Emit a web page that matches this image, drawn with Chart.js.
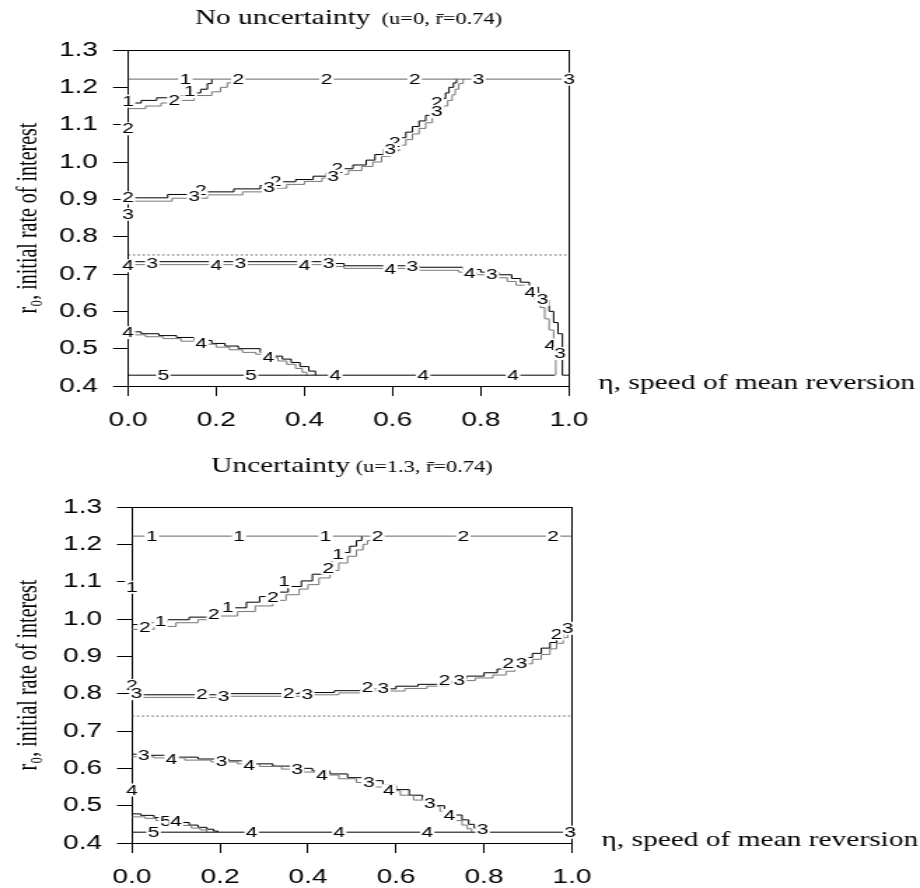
<!DOCTYPE html>
<html>
<head>
<meta charset="utf-8">
<script src="https://cdn.jsdelivr.net/npm/chart.js@4.4.1/dist/chart.umd.min.js"></script>
<style>
  html, body { margin: 0; padding: 0; background: #fff; overflow: hidden; }
  /* the reference is stretched sideways, so the canvases are drawn narrow and widened */
  .panel { width: 657px; height: 444px; transform: scaleX(1.4003); transform-origin: 0 0; }
</style>
</head>
<body>
<div class="panel"><canvas id="topChart" width="657" height="444"></canvas></div>
<div class="panel"><canvas id="bottomChart" width="657" height="444"></canvas></div>
<script>
// axis ticks
const xTicks = [0, 0.2, 0.4, 0.6, 0.8, 1.0];
const yTicks = [0.4, 0.5, 0.6, 0.7, 0.8, 0.9, 1.0, 1.1, 1.2, 1.3];

// ---- No uncertainty (u=0) : contour lines as [eta, r0] step points ----
const topEdgeHigh = [[0, 1.222], [1, 1.222]];
const topEdgeLow = [[0, 0.429], [0.968, 0.429]];
const topMean = [[0, 0.751], [1, 0.751]];
const topStairUpper = [[0, 1.158], [0.03, 1.165], [0.065, 1.172], [0.10, 1.178], [0.14, 1.185], [0.165, 1.195], [0.18, 1.21], [0.19, 1.222]];
const topStairLower = [[0, 1.143], [0.04, 1.15], [0.075, 1.158], [0.11, 1.165], [0.15, 1.178], [0.19, 1.188], [0.21, 1.20], [0.225, 1.212], [0.235, 1.222]];
const topCurveUpper = [[0, 0.904], [0.09, 0.913], [0.17, 0.92], [0.24, 0.928], [0.30, 0.937], [0.34, 0.947], [0.38, 0.953], [0.42, 0.962], [0.45, 0.972], [0.48, 0.982], [0.51, 0.992], [0.54, 1.005], [0.56, 1.02], [0.58, 1.035], [0.60, 1.05], [0.615, 1.065], [0.63, 1.08], [0.645, 1.095], [0.66, 1.11], [0.675, 1.125], [0.69, 1.14], [0.70, 1.155], [0.71, 1.17], [0.72, 1.185], [0.728, 1.20], [0.738, 1.212], [0.745, 1.222]];
const topCurveLower = [[0, 0.895], [0.10, 0.903], [0.18, 0.912], [0.26, 0.92], [0.32, 0.93], [0.36, 0.94], [0.40, 0.948], [0.44, 0.957], [0.47, 0.967], [0.50, 0.977], [0.53, 0.988], [0.555, 1.0], [0.575, 1.015], [0.595, 1.03], [0.615, 1.045], [0.63, 1.06], [0.645, 1.075], [0.66, 1.09], [0.675, 1.105], [0.69, 1.12], [0.705, 1.135], [0.715, 1.15], [0.725, 1.165], [0.735, 1.18], [0.742, 1.195], [0.75, 1.21], [0.76, 1.222]];
const topDropUpper = [[0, 0.733], [0.47, 0.728], [0.49, 0.722], [0.66, 0.718], [0.76, 0.712], [0.80, 0.705], [0.84, 0.698], [0.87, 0.688], [0.89, 0.678], [0.91, 0.665], [0.93, 0.648], [0.945, 0.63], [0.955, 0.60], [0.965, 0.57], [0.975, 0.54], [0.985, 0.50], [0.985, 0.429], [1, 0.429]];
const topDropLower = [[0, 0.725], [0.47, 0.72], [0.49, 0.715], [0.66, 0.71], [0.75, 0.705], [0.79, 0.698], [0.83, 0.69], [0.86, 0.68], [0.88, 0.67], [0.90, 0.655], [0.92, 0.635], [0.935, 0.61], [0.945, 0.58], [0.955, 0.55], [0.965, 0.52], [0.97, 0.46], [0.97, 0.429]];
const topCornerUpper = [[0, 0.545], [0.03, 0.54], [0.07, 0.535], [0.11, 0.53], [0.15, 0.522], [0.19, 0.514], [0.22, 0.507], [0.25, 0.50], [0.30, 0.49], [0.33, 0.48], [0.35, 0.472], [0.37, 0.463], [0.39, 0.452], [0.41, 0.44], [0.425, 0.429]];
const topCornerLower = [[0, 0.537], [0.04, 0.532], [0.08, 0.527], [0.12, 0.52], [0.16, 0.512], [0.20, 0.504], [0.23, 0.497], [0.26, 0.49], [0.29, 0.485], [0.32, 0.476], [0.34, 0.467], [0.36, 0.458], [0.38, 0.447], [0.395, 0.437], [0.405, 0.429]];
const topLabels = [
  ['1', 0.13, 1.222], ['2', 0.25, 1.222], ['2', 0.45, 1.222], ['2', 0.65, 1.222], ['3', 0.795, 1.222], ['3', 1.0, 1.222],
  ['1', 0, 1.163], ['2', 0, 1.089], ['2', 0.105, 1.165], ['1', 0.14, 1.188],
  ['2', 0, 0.904], ['3', 0, 0.86],
  ['2', 0.165, 0.925], ['3', 0.15, 0.909], ['2', 0.335, 0.948], ['3', 0.32, 0.932], ['2', 0.475, 0.983], ['3', 0.465, 0.962],
  ['2', 0.605, 1.052], ['3', 0.595, 1.033], ['2', 0.70, 1.16], ['3', 0.70, 1.135],
  ['4', 0, 0.722], ['3', 0.055, 0.729], ['4', 0.20, 0.722], ['3', 0.255, 0.729], ['4', 0.40, 0.722], ['3', 0.455, 0.729],
  ['4', 0.595, 0.712], ['3', 0.645, 0.72], ['4', 0.775, 0.702], ['3', 0.825, 0.70], ['4', 0.912, 0.652], ['3', 0.94, 0.632],
  ['4', 0.957, 0.51], ['3', 0.98, 0.487],
  ['4', 0, 0.543], ['4', 0.166, 0.515], ['4', 0.318, 0.478],
  ['5', 0.08, 0.429], ['5', 0.279, 0.429], ['4', 0.47, 0.429], ['4', 0.669, 0.429], ['4', 0.873, 0.429]
];

// ---- Uncertainty (u=1.3) ----
const botEdgeHigh = [[0, 1.222], [1, 1.222]];
const botEdgeLow = [[0, 0.429], [1, 0.429]];
const botMean = [[0, 0.74], [1, 0.74]];
const botStairUpper = [[0, 0.985], [0.04, 0.99], [0.08, 0.998], [0.13, 1.005], [0.18, 1.017], [0.22, 1.03], [0.26, 1.045], [0.29, 1.06], [0.32, 1.072], [0.355, 1.087], [0.385, 1.102], [0.41, 1.12], [0.435, 1.14], [0.455, 1.16], [0.475, 1.178], [0.495, 1.195], [0.51, 1.21], [0.522, 1.222]];
const botStairLower = [[0, 0.972], [0.05, 0.98], [0.10, 0.99], [0.15, 0.998], [0.20, 1.008], [0.24, 1.02], [0.28, 1.035], [0.32, 1.05], [0.35, 1.065], [0.38, 1.08], [0.40, 1.092], [0.425, 1.11], [0.45, 1.13], [0.47, 1.15], [0.49, 1.168], [0.51, 1.185], [0.525, 1.20], [0.535, 1.21], [0.548, 1.222]];
const botRiseUpper = [[0, 0.797], [0.2, 0.80], [0.38, 0.803], [0.46, 0.808], [0.52, 0.813], [0.6, 0.82], [0.65, 0.825], [0.7, 0.832], [0.73, 0.84], [0.76, 0.847], [0.80, 0.856], [0.83, 0.866], [0.85, 0.876], [0.87, 0.886], [0.89, 0.897], [0.91, 0.908], [0.93, 0.922], [0.95, 0.937], [0.965, 0.952], [0.98, 0.968], [0.99, 0.983], [1.0, 1.0]];
const botRiseLower = [[0, 0.79], [0.22, 0.793], [0.40, 0.797], [0.47, 0.802], [0.53, 0.807], [0.62, 0.814], [0.67, 0.82], [0.72, 0.827], [0.75, 0.835], [0.78, 0.842], [0.82, 0.85], [0.85, 0.86], [0.87, 0.87], [0.89, 0.88], [0.91, 0.892], [0.93, 0.905], [0.95, 0.92], [0.965, 0.935], [0.98, 0.95], [0.99, 0.965], [1.0, 0.98]];
const botDropUpper = [[0, 0.638], [0.04, 0.635], [0.1, 0.63], [0.15, 0.625], [0.22, 0.62], [0.27, 0.612], [0.32, 0.606], [0.37, 0.60], [0.41, 0.593], [0.45, 0.585], [0.49, 0.575], [0.53, 0.567], [0.57, 0.555], [0.60, 0.543], [0.63, 0.528], [0.66, 0.515], [0.69, 0.50], [0.71, 0.488], [0.73, 0.475], [0.75, 0.462], [0.765, 0.45], [0.778, 0.44], [0.79, 0.429]];
const botDropLower = [[0, 0.631], [0.05, 0.628], [0.12, 0.622], [0.18, 0.617], [0.24, 0.612], [0.29, 0.605], [0.34, 0.598], [0.39, 0.59], [0.43, 0.582], [0.47, 0.572], [0.51, 0.562], [0.55, 0.55], [0.58, 0.54], [0.61, 0.528], [0.64, 0.515], [0.67, 0.498], [0.70, 0.485], [0.72, 0.472], [0.735, 0.46], [0.75, 0.448], [0.762, 0.438], [0.772, 0.429]];
const botCornerUpper = [[0, 0.478], [0.02, 0.474], [0.05, 0.468], [0.07, 0.462], [0.11, 0.455], [0.13, 0.448], [0.15, 0.442], [0.17, 0.437], [0.185, 0.432], [0.195, 0.429]];
const botCornerLower = [[0, 0.47], [0.03, 0.466], [0.055, 0.46], [0.09, 0.453], [0.115, 0.447], [0.135, 0.44], [0.155, 0.435], [0.17, 0.429]];
const botLabels = [
  ['1', 0.045, 1.222], ['1', 0.243, 1.222], ['1', 0.44, 1.222], ['2', 0.558, 1.222], ['2', 0.753, 1.222], ['2', 0.957, 1.222],
  ['1', 0, 1.085],
  ['2', 0.029, 0.978], ['1', 0.065, 0.995], ['2', 0.186, 1.012], ['1', 0.218, 1.03], ['2', 0.32, 1.058], ['1', 0.346, 1.10], ['2', 0.446, 1.136], ['1', 0.468, 1.172],
  ['2', 0, 0.822], ['3', 0.01, 0.80], ['2', 0.159, 0.799], ['3', 0.208, 0.794], ['2', 0.356, 0.802], ['3', 0.398, 0.798],
  ['2', 0.535, 0.816], ['3', 0.571, 0.813], ['2', 0.71, 0.836], ['3', 0.744, 0.836], ['2', 0.855, 0.882], ['3', 0.885, 0.882],
  ['2', 0.965, 0.96], ['3', 0.99, 0.975],
  ['3', 0.027, 0.636], ['4', 0.09, 0.625], ['3', 0.203, 0.619], ['4', 0.266, 0.607], ['3', 0.375, 0.596], ['4', 0.432, 0.58],
  ['3', 0.538, 0.562], ['4', 0.584, 0.54], ['3', 0.677, 0.506], ['4', 0.721, 0.474], ['3', 0.797, 0.436],
  ['4', 0, 0.542], ['5', 0.077, 0.457], ['4', 0.10, 0.459],
  ['5', 0.049, 0.429], ['4', 0.272, 0.429], ['4', 0.471, 0.429], ['4', 0.671, 0.429], ['3', 0.996, 0.429]
];

const K = 920 / 657;   // sideways stretch
const W = 657, H = 444;
const DARK = '#000', GREY = '#777';
const sans = '"Liberation Sans", Arial, sans-serif';
const serif = '"Liberation Serif", "Times New Roman", serif';

function line(pts, color, dotted) {
  return {
    data: pts.map(p => ({x: p[0], y: p[1]})),
    borderColor: color,
    borderWidth: 1,
    borderDash: dotted ? [1.5, 2] : [],
    stepped: !dotted,
    pointRadius: 0,
    fill: false
  };
}

function textPlugin(labels, main, sub, titleY) {
  return {
    id: 'panelText',
    afterDatasetsDraw(chart) {
      const {ctx, scales} = chart;
      ctx.save();
      ctx.font = '15px ' + sans;
      ctx.textAlign = 'center';
      ctx.textBaseline = 'middle';
      labels.forEach(([t, vx, vy]) => {
        const px = scales.x.getPixelForValue(vx);
        const py = scales.y.getPixelForValue(vy);
        const w = ctx.measureText(t).width;
        ctx.fillStyle = '#fff';
        ctx.fillRect(px - w / 2 - 1, py - 6.5, w + 2, 13);
        ctx.fillStyle = '#000';
        ctx.fillText(t, px, py + 0.5);
      });
      ctx.restore();
    },
    afterDraw(chart) {
      const {ctx, chartArea} = chart;
      ctx.save();
      ctx.fillStyle = '#000';
      ctx.textAlign = 'left';
      ctx.textBaseline = 'alphabetic';
      ctx.font = '21px ' + serif;
      const w1 = ctx.measureText(main).width;
      ctx.font = '16px ' + serif;
      const w2 = ctx.measureText(sub).width;
      const sx = (chartArea.left + chartArea.right) / 2 - (w1 + w2) / 2;
      ctx.font = '21px ' + serif;
      ctx.fillText(main, sx, titleY);
      ctx.font = '16px ' + serif;
      ctx.fillText(sub, sx + w1, titleY);
      // x axis name sits to the right of the plot
      ctx.font = '21px ' + serif;
      ctx.fillText('η, speed of mean reversion', chartArea.right + 21, chartArea.bottom + 3);
      ctx.restore();
    }
  };
}

function makeChart(id, area, datasets, labels, main, sub, titleY) {
  const tickFont = {family: sans, size: 20};
  return new Chart(document.getElementById(id), {
    type: 'line',
    data: {datasets: datasets},
    options: {
      responsive: false,
      animation: false,
      devicePixelRatio: 1,
      events: [],
      layout: {padding: {left: 0, top: area.top, right: W - area.right, bottom: 0}},
      plugins: {legend: {display: false}, tooltip: {enabled: false}},
      scales: {
        x: {
          type: 'linear', position: 'bottom', min: 0, max: 1,
          afterBuildTicks: s => { s.ticks = xTicks.map(v => ({value: v})); },
          afterFit: s => { s.height = H - area.bottom; },
          grid: {display: true, drawOnChartArea: false, drawTicks: true, tickLength: 10, color: '#000', lineWidth: 1},
          border: {display: true, color: '#000', width: 1},
          ticks: {color: '#000', font: tickFont, padding: 12, maxRotation: 0, autoSkip: false, callback: v => Number(v).toFixed(1)}
        },
        y: {
          type: 'linear', position: 'left', min: 0.4, max: 1.3,
          afterBuildTicks: s => { s.ticks = yTicks.map(v => ({value: v})); },
          afterFit: s => { s.width = area.left; },
          grid: {display: true, drawOnChartArea: false, drawTicks: true, tickLength: 15 / K, color: '#000', lineWidth: 1},
          border: {display: true, color: '#000', width: 1},
          ticks: {color: '#000', font: tickFont, padding: 15 / K, autoSkip: false, callback: v => Number(v).toFixed(1)},
          title: {display: true, text: 'r₀, initial rate of interest', color: '#000', font: {family: serif, size: 20}, padding: {top: 9, bottom: 0}}
        },
        x2: {
          type: 'linear', position: 'top', min: 0, max: 1,
          grid: {display: false}, ticks: {display: false},
          border: {display: true, color: '#000', width: 1},
          afterFit: s => { s.height = 0; }
        },
        y2: {
          type: 'linear', position: 'right', min: 0, max: 1,
          grid: {display: false}, ticks: {display: false},
          border: {display: true, color: '#000', width: 1},
          afterFit: s => { s.width = 0; }
        }
      }
    },
    plugins: [textPlugin(labels, main, sub, titleY)]
  });
}

const topArea = {left: 128 / K, right: 569 / K, top: 50, bottom: 386};
const botArea = {left: 132 / K, right: 572 / K, top: 63, bottom: 399};

makeChart('topChart', topArea, [
  line(topMean, '#555', true),
  line(topEdgeHigh, '#666'),
  line(topEdgeLow, DARK),
  line(topStairLower, GREY), line(topStairUpper, DARK),
  line(topCurveLower, GREY), line(topCurveUpper, DARK),
  line(topDropLower, GREY), line(topDropUpper, DARK),
  line(topCornerLower, GREY), line(topCornerUpper, DARK)
], topLabels, 'No uncertainty', '  (u=0, r\u0304=0.74)', 24);

makeChart('bottomChart', botArea, [
  line(botMean, '#555', true),
  line(botEdgeHigh, '#666'),
  line(botEdgeLow, DARK),
  line(botStairLower, GREY), line(botStairUpper, DARK),
  line(botRiseLower, GREY), line(botRiseUpper, DARK),
  line(botDropLower, GREY), line(botDropUpper, DARK),
  line(botCornerLower, GREY), line(botCornerUpper, DARK)
], botLabels, 'Uncertainty', ' (u=1.3, r\u0304=0.74)', 28);
</script>
</body>
</html>
